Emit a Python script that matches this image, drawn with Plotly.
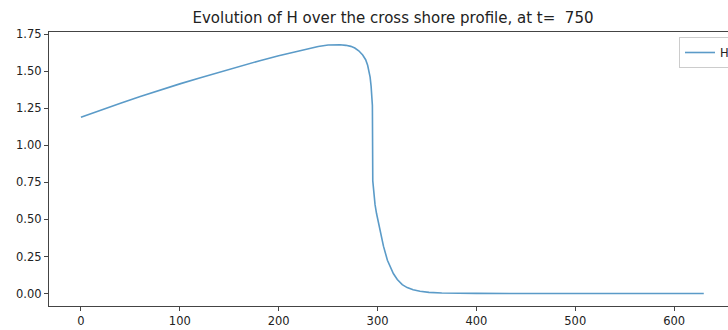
import plotly.graph_objects as go

# Cross-shore position and wave height H
x_pos = [0, 20, 40, 60, 80, 100, 120, 140, 160, 180, 200, 215, 230, 240, 250, 256,
         262, 268, 273, 277, 281, 285, 288, 290, 291.5, 292.5, 293.5, 294.3, 294.8, 295.2,
         295.8, 296.5, 297.5, 299, 301, 303, 306, 310, 313, 316, 320, 325, 330, 336,
         343, 352, 365, 380, 400, 450, 500, 550, 600, 630]
H_vals = [1.19, 1.24, 1.285, 1.33, 1.375, 1.415, 1.455, 1.495, 1.535, 1.57, 1.605,
          1.63, 1.655, 1.667, 1.677, 1.68, 1.679, 1.675, 1.668, 1.657, 1.638, 1.61, 1.578,
          1.54, 1.50, 1.46, 1.40, 1.33, 1.27, 0.76, 0.70, 0.65, 0.60, 0.54, 0.47,
          0.41, 0.32, 0.225, 0.175, 0.135, 0.095, 0.06, 0.04, 0.025, 0.015, 0.008,
          0.004, 0.002, 0.001, 0.0, 0.0, 0.0, 0.0, 0.0]

x_ticks = [0, 100, 200, 300, 400, 500, 600]
y_ticks = [0.00, 0.25, 0.50, 0.75, 1.00, 1.25, 1.50, 1.75]
t_value = 750

fig = go.Figure()
fig.add_trace(go.Scatter(
    x=x_pos, y=H_vals, mode="lines", name="H",
    line=dict(color="#5b9bc8", width=1.6),
))

axis_common = dict(
    showgrid=False, zeroline=False, showline=True, linecolor="#444", linewidth=1.2,
    ticks="outside", ticklen=4, tickwidth=1, tickcolor="#444",
    tickfont=dict(family="DejaVu Sans", size=11.5, color="#222"),
)

fig.update_layout(
    width=728, height=330,
    margin=dict(l=49, r=0, t=32, b=24, autoexpand=False),
    paper_bgcolor="white", plot_bgcolor="white",
    title=dict(text=f"Evolution of H over the cross shore profile, at t=  {t_value}",
               x=393/728, xref="container", xanchor="center",
               y=1 - 18/330, yref="container", yanchor="middle",
               font=dict(family="DejaVu Sans", size=15, color="#222")),
    xaxis=dict(range=[-32.3, 654.5], tickvals=x_ticks, mirror=True,
               automargin=False, **axis_common),
    yaxis=dict(range=[-0.084, 1.765], tickvals=y_ticks, tickformat=".2f",
               automargin=False, **axis_common),
    showlegend=True,
    legend=dict(x=(679 - 49) / 679, y=(306 - 37) / 274, xanchor="left", yanchor="top",
                bgcolor="white", bordercolor="#ccc", borderwidth=1,
                font=dict(family="DejaVu Sans", size=11.5, color="#222")),
)

fig.write_html("out.html", config={"displayModeBar": False},
               post_script="document.body.style.margin='0';document.body.style.overflow='hidden';")
